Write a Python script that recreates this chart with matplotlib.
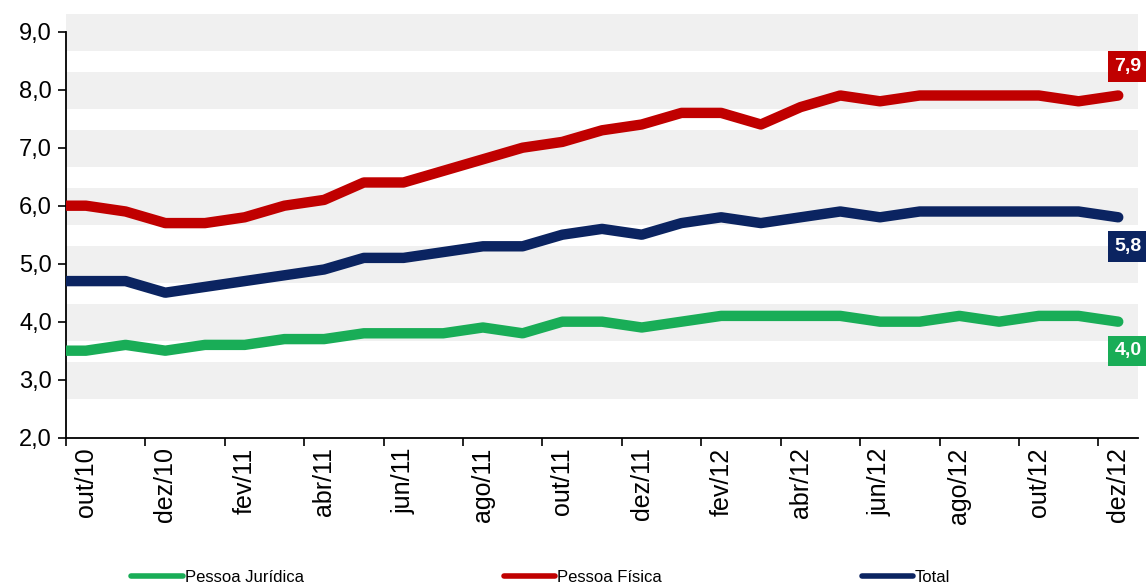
import numpy as np
import matplotlib
matplotlib.use("Agg")
import matplotlib.pyplot as plt

plt.rcParams["font.family"] = ["Liberation Sans", "DejaVu Sans"]

# monthly series; set/10 is only the clipped start of the line
months = ["set/10", "out/10", "nov/10", "dez/10",
          "jan/11", "fev/11", "mar/11", "abr/11", "mai/11", "jun/11",
          "jul/11", "ago/11", "set/11", "out/11", "nov/11", "dez/11",
          "jan/12", "fev/12", "mar/12", "abr/12", "mai/12", "jun/12",
          "jul/12", "ago/12", "set/12", "out/12", "nov/12", "dez/12"]
pessoa_juridica = [3.5, 3.5, 3.6, 3.5, 3.6, 3.6, 3.7, 3.7, 3.8, 3.8, 3.8, 3.9, 3.8, 4.0,
                   4.0, 3.9, 4.0, 4.1, 4.1, 4.1, 4.1, 4.0, 4.0, 4.1, 4.0, 4.1, 4.1, 4.0]
pessoa_fisica = [6.0, 6.0, 5.9, 5.7, 5.7, 5.8, 6.0, 6.1, 6.4, 6.4, 6.6, 6.8, 7.0, 7.1,
                 7.3, 7.4, 7.6, 7.6, 7.4, 7.7, 7.9, 7.8, 7.9, 7.9, 7.9, 7.9, 7.8, 7.9]
total = [4.7, 4.7, 4.7, 4.5, 4.6, 4.7, 4.8, 4.9, 5.1, 5.1, 5.2, 5.3, 5.3, 5.5,
         5.6, 5.5, 5.7, 5.8, 5.7, 5.8, 5.9, 5.8, 5.9, 5.9, 5.9, 5.9, 5.9, 5.8]

tick_labels = months[1::2]
y_ticks = [2, 3, 4, 5, 6, 7, 8, 9]

series = [("Pessoa Jurídica", pessoa_juridica, "#19ad57", -21),
          ("Pessoa Física", pessoa_fisica, "#c00000", 21),
          ("Total", total, "#0b2461", -21)]

x = np.arange(len(months)) - 0.5

fig = plt.figure(figsize=(11.46, 5.86), dpi=100)
ax = fig.add_axes([0.0576, 0.2531, 0.9355, 0.7225])

# alternating grey bands behind the grid values
for k in range(3, 10):
    ax.axhspan(k - 0.33, k + 0.31, color="#f0f0f0", lw=0, zorder=0)

for name, vals, color, dy in series:
    ax.plot(x, vals, color=color, lw=7.5, solid_capstyle="round",
            solid_joinstyle="round", label=name, zorder=3)
    ax.annotate(f"{vals[-1]:.1f}".replace(".", ","), xy=(x[-1], vals[-1]),
                xytext=(7, dy), textcoords="offset points",
                ha="center", va="center", fontsize=14, fontweight="bold",
                color="white", annotation_clip=False,
                bbox=dict(boxstyle="square,pad=0.35", fc=color, ec="none"))

ax.set_xlim(0, 27)
ax.set_ylim(2, 9.3)
ax.set_yticks(y_ticks)
ax.set_yticklabels([f"{v:.1f}".replace(".", ",") for v in y_ticks], fontsize=17)

ax.set_xticks(np.arange(0, 27, 2))
ax.set_xticklabels([])
ax.set_xticks(np.arange(0, 27, 2) + 0.5, minor=True)
ax.set_xticklabels(tick_labels, minor=True, rotation=90, fontsize=18)
ax.tick_params(axis="x", which="minor", length=0, pad=7)
ax.tick_params(axis="x", which="major", length=6, width=1.2, direction="out")
ax.tick_params(axis="y", length=6, width=1.2, direction="out", pad=4)

for s in ["top", "right"]:
    ax.spines[s].set_visible(False)
ax.spines["left"].set_bounds(2, 9)
ax.spines["left"].set_linewidth(1.3)
ax.spines["bottom"].set_linewidth(1.3)

fig.legend(loc="center", bbox_to_anchor=(0.472, 1 - 577 / 586), ncol=3,
           frameon=False, fontsize=12, handlelength=3.1, handletextpad=0.1,
           columnspacing=12)
for h in fig.legends[0].get_lines():
    h.set_linewidth(4)

fig.savefig("out.png", dpi=100)
